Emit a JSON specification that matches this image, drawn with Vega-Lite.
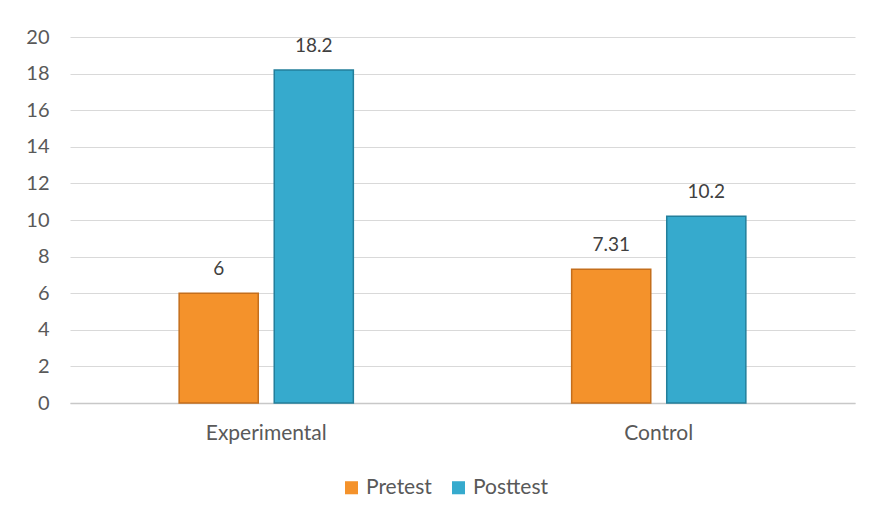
{
  "$schema": "https://vega.github.io/schema/vega-lite/v6.json",
  "width": 785,
  "height": 366,
  "autosize": "none",
  "padding": {"left": 70, "top": 37, "right": 19, "bottom": 120},
  "background": "white",
  "config": {
    "view": {"stroke": null},
    "font": "Lato",
    "legend": {"labelFont": "Lato", "labelColor": "#595959", "labelFontSize": 21}
  },
  "data": {
    "values": [
      {"group": "Experimental", "series": "Pretest", "value": 6},
      {"group": "Experimental", "series": "Posttest", "value": 18.2},
      {"group": "Control", "series": "Pretest", "value": 7.31},
      {"group": "Control", "series": "Posttest", "value": 10.2}
    ]
  },
  "encoding": {
    "x": {
      "field": "group",
      "type": "nominal",
      "sort": ["Experimental", "Control"],
      "scale": {"paddingInner": 0.5, "paddingOuter": 0.25},
      "axis": {
        "title": null,
        "labelAngle": 0,
        "ticks": false,
        "domainColor": "#c8c8c8",
        "domainWidth": 1.5,
        "labelPadding": 19,
        "labelFont": "Lato",
        "labelFontSize": 21,
        "labelColor": "#595959"
      }
    },
    "xOffset": {
      "field": "series",
      "type": "nominal",
      "sort": ["Pretest", "Posttest"],
      "scale": {"paddingInner": 0.168, "paddingOuter": 0.116}
    },
    "y": {
      "field": "value",
      "type": "quantitative",
      "scale": {"domain": [0, 20], "nice": false},
      "axis": {
        "title": null,
        "values": [0, 2, 4, 6, 8, 10, 12, 14, 16, 18, 20],
        "domain": false,
        "ticks": false,
        "gridColor": "#d9d9d9",
        "gridWidth": 1,
        "labelPadding": 21,
        "labelFont": "Lato",
        "labelFontSize": 20,
        "labelColor": "#595959"
      }
    }
  },
  "layer": [
    {
      "mark": {"type": "bar", "strokeWidth": 1.5},
      "encoding": {
        "color": {
          "field": "series",
          "type": "nominal",
          "sort": ["Pretest", "Posttest"],
          "scale": {"domain": ["Pretest", "Posttest"], "range": ["#F4922B", "#36AACD"]},
          "legend": {
            "title": null,
            "orient": "none",
            "direction": "horizontal",
            "legendX": 271,
            "legendY": 440,
            "symbolType": "square",
            "symbolSize": 170,
            "symbolStrokeWidth": 0,
            "columnPadding": 16,
            "labelOffset": 4
          }
        },
        "stroke": {
          "field": "series",
          "type": "nominal",
          "scale": {"domain": ["Pretest", "Posttest"], "range": ["#C46E1C", "#237F9B"]},
          "legend": null
        }
      }
    },
    {
      "mark": {"type": "text", "baseline": "alphabetic", "dy": -18, "fontSize": 19, "color": "#404040"},
      "encoding": {
        "text": {"field": "value", "type": "quantitative"}
      }
    }
  ]
}
